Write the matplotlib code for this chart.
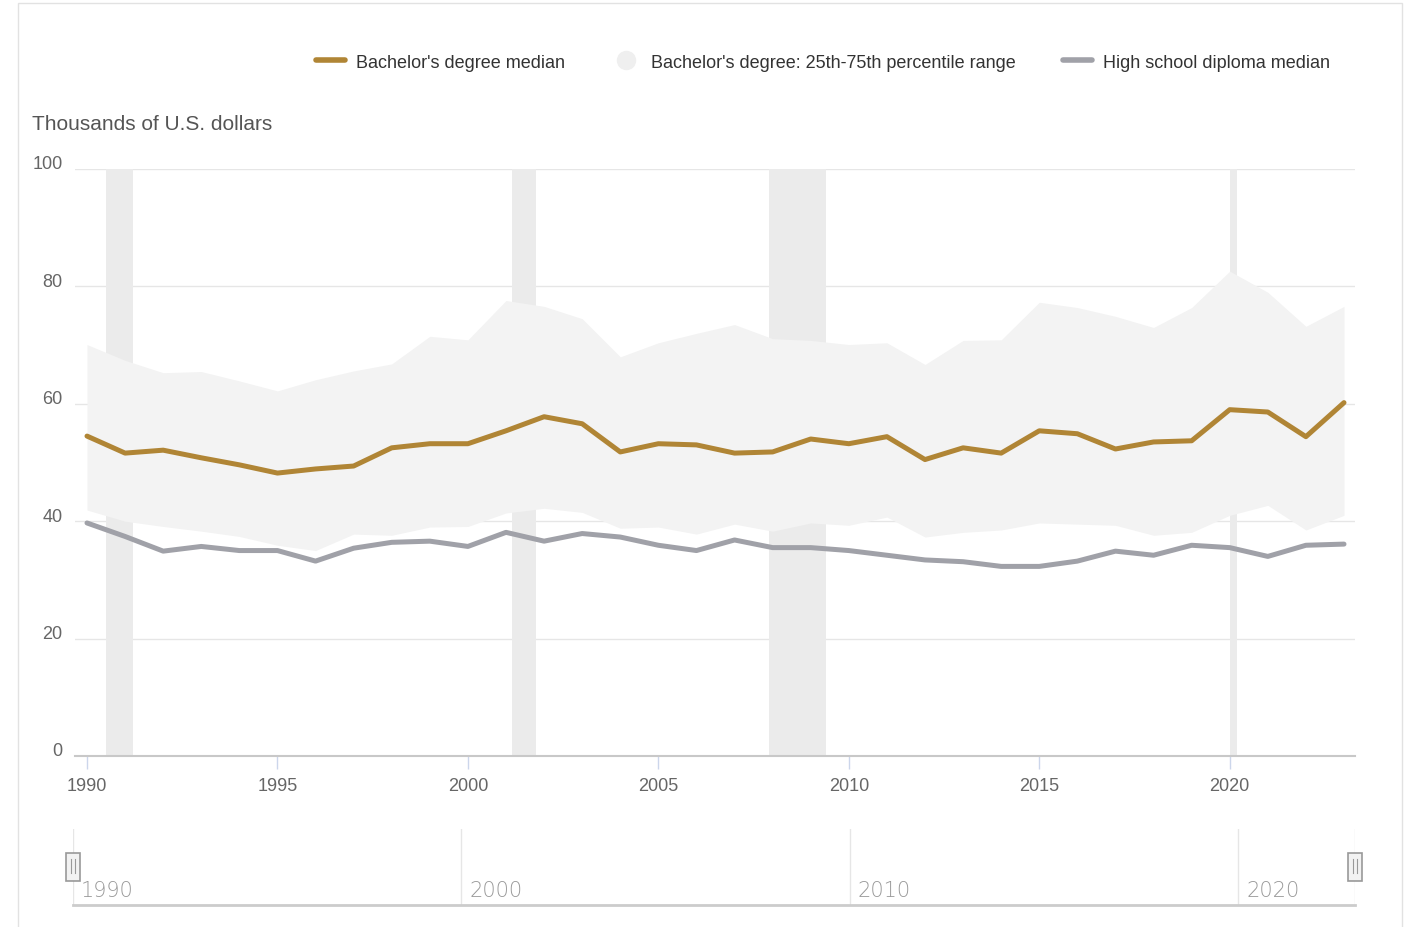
import numpy as np
import matplotlib.pyplot as plt
from matplotlib.lines import Line2D
from matplotlib.patches import Rectangle
from matplotlib.transforms import ScaledTranslation

plt.rcParams['font.family'] = ['Liberation Sans', 'DejaVu Sans']

# Datos (miles de dólares)
years = np.arange(1990, 2024)
ba_median = [54.5, 51.6, 52.1, 50.8, 49.6, 48.2, 48.9, 49.4, 52.5, 53.2,
             53.2, 55.4, 57.8, 56.6, 51.8, 53.2, 53.0, 51.6, 51.8, 54.0,
             53.2, 54.4, 50.5, 52.5, 51.6, 55.4, 54.9, 52.3, 53.5, 53.7,
             59.0, 58.6, 54.4, 60.2]
ba_p75 = [70.1, 67.4, 65.3, 65.5, 63.9, 62.2, 64.1, 65.6, 66.8, 71.5,
          70.9, 77.6, 76.6, 74.5, 68.0, 70.4, 72.0, 73.5, 71.1, 70.8,
          70.1, 70.4, 66.7, 70.8, 70.9, 77.3, 76.4, 74.9, 73.0, 76.4,
          82.6, 79.0, 73.2, 76.6]
ba_p25 = [41.9, 40.0, 39.1, 38.3, 37.4, 35.9, 35.0, 37.8, 37.6, 39.0,
          39.1, 41.4, 42.2, 41.5, 38.8, 39.0, 37.8, 39.5, 38.3, 39.7,
          39.3, 40.7, 37.3, 38.1, 38.5, 39.7, 39.5, 39.3, 37.6, 38.1,
          41.0, 42.7, 38.5, 41.0]
hs_median = [39.7, 37.4, 34.9, 35.7, 35.0, 35.0, 33.2, 35.4, 36.4, 36.6,
             35.7, 38.1, 36.6, 37.9, 37.3, 35.9, 35.0, 36.8, 35.5, 35.5,
             35.0, 34.2, 33.4, 33.1, 32.3, 32.3, 33.2, 34.9, 34.2, 35.9,
             35.5, 34.0, 35.9, 36.1]
# Recesiones (inicio, fin)
recessions = [(1990.5, 1991.2), (2001.15, 2001.8), (2007.9, 2009.4), (2020.0, 2020.2)]
y_ticks = [0, 20, 40, 60, 80, 100]
x_ticks = [1990, 1995, 2000, 2005, 2010, 2015, 2020]
nav_ticks = [1990, 2000, 2010, 2020]

gold = '#B08535'
grey = '#A0A1A8'
W, H = 1409, 928

fig = plt.figure(figsize=(W / 100, H / 100), dpi=100)

# Marco exterior
fig.patches.append(Rectangle((18 / W, -0.01), (1402 - 18) / W, (H - 4) / H + 0.01,
                             transform=fig.transFigure, fill=False,
                             edgecolor='#E2E2E2', linewidth=1))

ax = fig.add_axes([75 / W, (H - 757) / H, 1280 / W, 587 / H])
for s, e in recessions:
    ax.axvspan(s, e, color='#EBEBEB', lw=0, zorder=1)
ax.fill_between(years, ba_p25, ba_p75, color='#F3F3F3', lw=0, zorder=2)
ax.plot(years, hs_median, color=grey, lw=3.6, zorder=3, solid_capstyle='round')
ax.plot(years, ba_median, color=gold, lw=3.6, zorder=4, solid_capstyle='round')

ax.set_xlim(1990 - 12 / 38.09, 2023 + 11 / 38.09)
ax.set_ylim(0, 100)
for sp in ['top', 'right', 'left']:
    ax.spines[sp].set_visible(False)
ax.spines['bottom'].set_color('#C8C8C8')
ax.spines['bottom'].set_linewidth(1.5)
ax.spines['bottom'].set_zorder(5)
ax.set_yticks(y_ticks)
ax.set_yticklabels([str(v) for v in y_ticks])
ax.grid(axis='y', color='#E6E6E6', lw=1, zorder=0)
ax.set_axisbelow(True)
ax.tick_params(axis='y', length=0, pad=9, labelsize=13, labelcolor='#666666')
shift = ScaledTranslation(0, 5 / 100, fig.dpi_scale_trans)
for lab in ax.get_yticklabels():
    lab.set_verticalalignment('center')
    lab.set_transform(lab.get_transform() + shift)
ax.set_xticks(x_ticks)
ax.tick_params(axis='x', length=9, width=1, color='#CCD6EB', pad=6,
               labelsize=13, labelcolor='#666666')

fig.text(32 / W, 1 - 125 / H, 'Thousands of U.S. dollars', fontsize=15,
         color='#555555', va='center', ha='left')

# Leyenda
handles = [Line2D([], [], color=gold, lw=4, solid_capstyle='round'),
           Line2D([], [], marker='o', ls='', markersize=13, markerfacecolor='#EFEFEF',
                  markeredgecolor='#EFEFEF'),
           Line2D([], [], color=grey, lw=4, solid_capstyle='round')]
labels = ["Bachelor's degree median", "Bachelor's degree: 25th-75th percentile range",
          'High school diploma median']
fig.legend(handles, labels, loc='center', bbox_to_anchor=(823 / W, 1 - 63 / H),
           ncol=3, frameon=False, fontsize=13, handlelength=1.6, columnspacing=2.6,
           handletextpad=0.6, labelcolor='#333333')

# Navegador inferior
nav = fig.add_axes([73 / W, (H - 906) / H, (1355 - 73) / W, 76 / H])
nav.set_xlim(1990, 2023)
nav.set_ylim(0, 1)
for sp in ['top', 'right', 'left']:
    nav.spines[sp].set_visible(False)
nav.spines['bottom'].set_color('#CCCCCC')
nav.spines['bottom'].set_linewidth(2)
nav.set_yticks([])
nav.set_xticks([])
for t in nav_ticks + [2023]:
    nav.axvline(t, color='#E6E6E6', lw=1)
for t in nav_ticks:
    nav.text(t + 0.2, 0.2, str(t), fontsize=15, color='#999999', ha='left', va='center',
             family='DejaVu Sans', fontweight='light')
for hx in [1990, 2023]:
    nav.add_patch(Rectangle((hx - 0.19, 0.31), 0.38, 0.38, facecolor='#F2F2F2',
                            edgecolor='#999999', lw=1.2, clip_on=False, zorder=5))
    nav.plot([hx - 0.05, hx - 0.05], [0.42, 0.6], color='#999999', lw=0.8, clip_on=False, zorder=6)
    nav.plot([hx + 0.05, hx + 0.05], [0.42, 0.6], color='#999999', lw=0.8, clip_on=False, zorder=6)

fig.savefig('out.png', dpi=100)
